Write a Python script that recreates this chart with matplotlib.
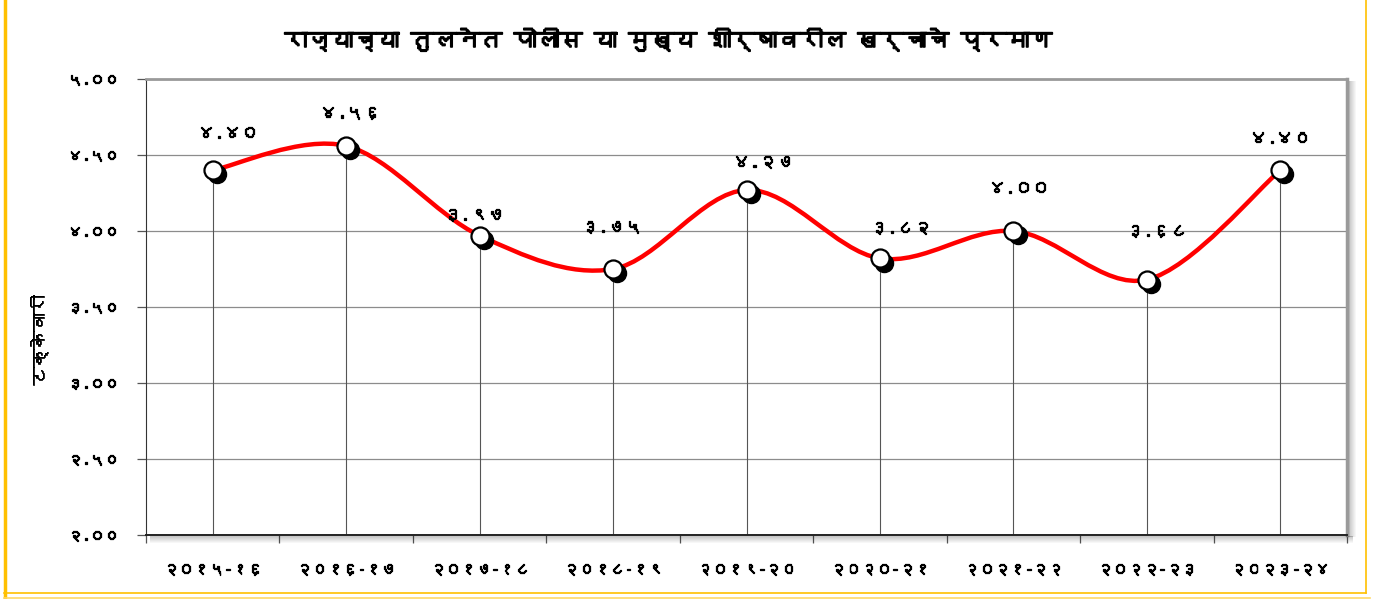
import matplotlib
matplotlib.use("Agg")
import matplotlib.pyplot as plt
from matplotlib import font_manager as fm
from matplotlib import patheffects as pe
from matplotlib.path import Path as MPath
from matplotlib.patches import PathPatch, Rectangle
from matplotlib.lines import Line2D
import matplotlib.transforms as mtransforms

title = "राज्याच्या तुलनेत पोलीस या मुख्य शीर्षावरील खर्चाचे प्रमाण"
ylabel = "टक्केवारी"
years = ["२०१५-१६", "२०१६-१७", "२०१७-१८", "२०१८-१९", "२०१९-२०",
         "२०२०-२१", "२०२१-२२", "२०२२-२३", "२०२३-२४"]
share = [4.40, 4.56, 3.97, 3.75, 4.27, 3.82, 4.00, 3.68, 4.40]
yticks = [2.0, 2.5, 3.0, 3.5, 4.0, 4.5, 5.0]

# data label nudges in points (dx, dy above the marker)
label_dx = [11, 3, -4, -1, 12, 15, 4, 7, 0]
label_dy = [27, 24, 15, 30, 20, 22, 31, 35, 23]

DEV = str.maketrans("0123456789", "०१२३४५६७८९")


def find_family(ch):
    """Pick an installed family that has a glyph for ch."""
    try:
        from fontTools.ttLib import TTFont
    except ImportError:
        return None
    for f in fm.fontManager.ttflist:
        try:
            tt = TTFont(f.fname, fontNumber=0, lazy=True)
            if ord(ch) in tt.getBestCmap():
                return f.name
        except Exception:
            continue
    return None


dev_family = find_family("र")
plt.rcParams["font.family"] = ([dev_family] if dev_family else []) + ["DejaVu Sans"]

# the Devanagari face has no bold, so thicken with a stroke
bold = [pe.withStroke(linewidth=0.9, foreground="black")]
bold_big = [pe.withStroke(linewidth=1.2, foreground="black")]
semi = [pe.withStroke(linewidth=0.5, foreground="black")]


def smooth_path(xs, ys):
    # Excel-like smoothed line: cubic Bezier through the points
    pts = list(zip(xs, ys))
    verts = [pts[0]]
    codes = [MPath.MOVETO]
    n = len(pts)
    for i in range(n - 1):
        p0 = pts[i - 1] if i > 0 else pts[i]
        p1 = pts[i]
        p2 = pts[i + 1]
        p3 = pts[i + 2] if i + 2 < n else pts[i + 1]
        c1 = (p1[0] + (p2[0] - p0[0]) / 6, p1[1] + (p2[1] - p0[1]) / 6)
        c2 = (p2[0] - (p3[0] - p1[0]) / 6, p2[1] - (p3[1] - p1[1]) / 6)
        verts += [c1, c2, p2]
        codes += [MPath.CURVE4] * 3
    return MPath(verts, codes)


fig = plt.figure(figsize=(13.84, 5.99), dpi=100)
ax = fig.add_axes([0.1055, 0.107, 0.8678, 0.761])

x = list(range(len(years)))
ax.set_xlim(-0.5, len(years) - 0.5)
ax.set_ylim(2.0, 5.0)

for yt in yticks:
    ax.axhline(yt, color="#8c8c8c", lw=0.9, zorder=1)
for xi, v in zip(x, share):
    ax.plot([xi, xi], [2.0, v], color="#555555", lw=0.8, zorder=1)

ax.add_patch(PathPatch(smooth_path(x, share), facecolor="none",
                       edgecolor="#ff0000", lw=3.2, zorder=3))

shadow = mtransforms.offset_copy(ax.transData, fig=fig, x=3, y=-3, units="points")
ax.plot(x, share, "o", ms=13, color="black", transform=shadow, zorder=4)
ax.plot(x, share, "o", ms=13, mfc="white", mec="black", mew=1.6, zorder=5)

for xi, v, dx, dy in zip(x, share, label_dx, label_dy):
    ax.annotate(f"{v:.2f}".translate(DEV), (xi, v), xytext=(dx, dy),
                textcoords="offset points", ha="center", va="center",
                fontsize=12.5, path_effects=bold)

ax.set_yticks(yticks)
ax.set_yticklabels([f"{t:.2f}".translate(DEV) for t in yticks], fontsize=10.5)
for t in ax.get_yticklabels():
    t.set_path_effects(bold)
ax.tick_params(axis="y", length=6.5, width=0.9, pad=13, color="#555555")

ax.set_xticks([i - 0.5 for i in range(len(years) + 1)])
ax.set_xticklabels([])
ax.set_xticks(x, minor=True)
ax.set_xticklabels(years, minor=True, fontsize=11)
for t in ax.get_xticklabels(minor=True):
    t.set_path_effects(bold)
ax.tick_params(axis="x", which="major", length=6, width=0.9, color="#555555")
ax.tick_params(axis="x", which="minor", length=0, pad=20)

ax.spines["left"].set_color("#333333")
ax.spines["bottom"].set_color("#222222")
ax.spines["bottom"].set_linewidth(1.4)
ax.spines["top"].set_color("#9a9a9a")
ax.spines["top"].set_linewidth(2)
ax.spines["right"].set_color("#9a9a9a")
ax.spines["right"].set_linewidth(2.5)

W, H = 1384, 599
fig.text(38 / W, 1 - 340 / H, ylabel, rotation=90, ha="center", va="center",
         fontsize=13, path_effects=semi)
fig.text(668 / W, 1 - 40 / H, title, ha="center", va="center",
         fontsize=16.5, path_effects=bold_big)

# drop shadow under and right of the plot area
for k in range(7):
    a = 0.22 * (1 - k / 7)
    fig.add_artist(Rectangle((150 / W, (62 - k) / H), 1203 / W, 1 / H,
                             transform=fig.transFigure, color="black", alpha=a, lw=0))
    fig.add_artist(Rectangle(((1349 + k) / W, 62 / H), 1 / W, 456 / H,
                             transform=fig.transFigure, color="black", alpha=a, lw=0))

# orange page frame
gold = "#ffc000"
fig.add_artist(Line2D([4.5 / W, 4.5 / W], [0, 1], color=gold, lw=2.5))
fig.add_artist(Line2D([1366 / W, 1366 / W], [6 / H, 1], color=gold, lw=1.2))
fig.add_artist(Line2D([4 / W, 1366 / W], [6 / H, 6 / H], color=gold, lw=1.2))
fig.add_artist(Line2D([4 / W, 1370 / W], [1.5 / H, 1.5 / H], color="#ffd966", lw=1.2))

fig.savefig("out.png", dpi=100)
